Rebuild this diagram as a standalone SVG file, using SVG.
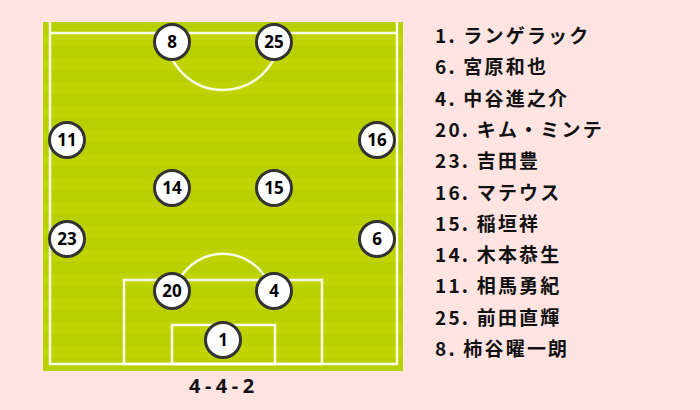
<svg xmlns="http://www.w3.org/2000/svg" width="700" height="410" viewBox="0 0 700 410">
<style>
.line{fill:none;stroke:#ffffff;stroke-width:2.5;opacity:0.9}
.pc{fill:#ffffff;stroke:#333333;stroke-width:3}
.pn{font-family:"Noto Sans","Noto Sans CJK JP",sans-serif;font-weight:bold;font-size:17px;fill:#000;text-anchor:middle}
.roster{font-family:"Noto Sans CJK JP","Noto Sans",sans-serif;font-weight:bold;font-size:19px;letter-spacing:2.2px;fill:#111}
.form{font-family:"Noto Sans","Noto Sans CJK JP",sans-serif;font-weight:bold;font-size:20px;letter-spacing:4.5px;fill:#111}
</style>
<defs>
<pattern id="stripes" x="0" y="22" width="10" height="24" patternUnits="userSpaceOnUse">
<rect x="0" y="0" width="10" height="12" fill="#b8cf00"/>
<rect x="0" y="12" width="10" height="12" fill="#c0d402"/>
</pattern>
</defs>
<rect x="0" y="0" width="700" height="410" fill="#ffe4e1"/>
<g id="pitch">
<rect x="43" y="22" width="360" height="349" fill="url(#stripes)"/>
<path class="line" d="M50,22 V364 H397 V22"/>
<line class="line" x1="50" y1="33" x2="397" y2="33"/>
<path class="line" d="M166,33 A57,57 0 0 0 280,33"/>
<rect class="line" x="124" y="280" width="198" height="84"/>
<rect class="line" x="172" y="325" width="103" height="39"/>
<path class="line" d="M179,280 A50,50 0 0 1 267,280"/>
</g>
<g id="connectors"></g>
<g id="p8"><circle class="pc" cx="172" cy="42" r="17.5"/><text class="pn" x="172" y="48">8</text></g>
<g id="p25"><circle class="pc" cx="274" cy="42" r="17.5"/><text class="pn" x="274" y="48">25</text></g>
<g id="p11"><circle class="pc" cx="67" cy="140" r="17.5"/><text class="pn" x="67" y="146">11</text></g>
<g id="p16"><circle class="pc" cx="377" cy="140" r="17.5"/><text class="pn" x="377" y="146">16</text></g>
<g id="p14"><circle class="pc" cx="172" cy="188" r="17.5"/><text class="pn" x="172" y="194">14</text></g>
<g id="p15"><circle class="pc" cx="274" cy="188" r="17.5"/><text class="pn" x="274" y="194">15</text></g>
<g id="p23"><circle class="pc" cx="67" cy="239" r="17.5"/><text class="pn" x="67" y="245">23</text></g>
<g id="p6"><circle class="pc" cx="377" cy="239" r="17.5"/><text class="pn" x="377" y="245">6</text></g>
<g id="p20"><circle class="pc" cx="172" cy="291" r="17.5"/><text class="pn" x="172" y="297">20</text></g>
<g id="p4"><circle class="pc" cx="274" cy="291" r="17.5"/><text class="pn" x="274" y="297">4</text></g>
<g id="p1"><circle class="pc" cx="223" cy="340" r="17.5"/><text class="pn" x="223" y="346">1</text></g>
<text id="formation" class="form" x="189" y="393">4-4-2</text>
<g id="roster">
<text class="roster" x="435" y="43">1. ランゲラック</text>
<text class="roster" x="435" y="74.3">6. 宮原和也</text>
<text class="roster" x="435" y="105.6">4. 中谷進之介</text>
<text class="roster" x="435" y="136.9">20. キム・ミンテ</text>
<text class="roster" x="435" y="168.2">23. 吉田豊</text>
<text class="roster" x="435" y="199.5">16. マテウス</text>
<text class="roster" x="435" y="230.8">15. 稲垣祥</text>
<text class="roster" x="435" y="262.1">14. 木本恭生</text>
<text class="roster" x="435" y="293.4">11. 相馬勇紀</text>
<text class="roster" x="435" y="324.7">25. 前田直輝</text>
<text class="roster" x="435" y="356">8. 柿谷曜一朗</text>
</g>
</svg>
